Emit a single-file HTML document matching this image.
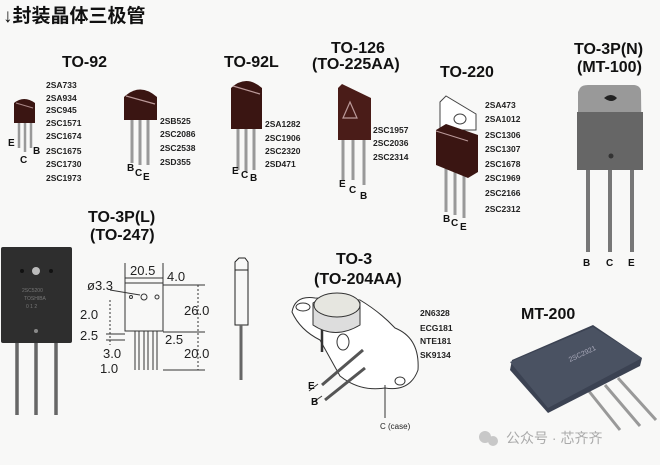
<!DOCTYPE html>
<html><head><meta charset="utf-8"><style>
html,body{margin:0;padding:0;background:#f8f8f7;}
svg{display:block}
.t{font-family:"Liberation Sans",sans-serif;font-weight:bold;fill:#111}
.n{font-family:"Liberation Sans",sans-serif;font-weight:bold;fill:#222;font-size:8.5px}
.d{font-family:"Liberation Sans",sans-serif;fill:#222;font-size:13px}
</style></head><body>
<svg width="660" height="465" viewBox="0 0 660 465">
<rect width="660" height="465" fill="#f8f8f7"/>
<text x="3" y="22" style="font-family:'Liberation Sans','Noto Sans CJK SC',sans-serif;font-weight:bold;font-size:19px" fill="#111">↓封装晶体三极管</text>

<!-- TO-92 -->
<text class="t" x="62" y="67" font-size="16">TO-92</text>
<g stroke="#999" stroke-width="2.5"><line x1="19" y1="120" x2="19" y2="148"/><line x1="25" y1="120" x2="25" y2="152"/><line x1="31" y1="120" x2="31" y2="148"/></g>
<path d="M14 103 Q24 95 35 103 L35 123 L14 123Z" fill="#3a1512"/><line x1="16" y1="103" x2="33" y2="108" stroke="#a88" stroke-width="1"/>
<text class="t" x="8" y="146" font-size="10" font-weight="normal">E</text><text class="t" x="20" y="163" font-size="10">C</text><text class="t" x="33" y="154" font-size="10">B</text>
<g class="n"><text x="46" y="88">2SA733</text><text x="46" y="101">2SA934</text><text x="46" y="113">2SC945</text><text x="46" y="126">2SC1571</text><text x="46" y="139">2SC1674</text><text x="46" y="154">2SC1675</text><text x="46" y="167">2SC1730</text><text x="46" y="181">2SC1973</text></g>

<g stroke="#999" stroke-width="3"><line x1="132" y1="118" x2="132" y2="163"/><line x1="140" y1="118" x2="140" y2="165"/><line x1="148" y1="118" x2="148" y2="165"/></g>
<path d="M124 97 Q140 82 157 97 L157 120 L124 120Z" fill="#3a1512"/><line x1="126" y1="96" x2="155" y2="104" stroke="#b99" stroke-width="1.2"/>
<text class="t" x="127" y="171" font-size="10">B</text><text class="t" x="135" y="176" font-size="10">C</text><text class="t" x="143" y="180" font-size="10">E</text>
<g class="n"><text x="160" y="124">2SB525</text><text x="160" y="137">2SC2086</text><text x="160" y="151">2SC2538</text><text x="160" y="165">2SD355</text></g>

<!-- TO-92L -->
<text class="t" x="224" y="67" font-size="16">TO-92L</text>
<g stroke="#999" stroke-width="3"><line x1="238" y1="125" x2="238" y2="170"/><line x1="246" y1="125" x2="246" y2="172"/><line x1="254" y1="125" x2="254" y2="170"/></g>
<path d="M231 88 Q246 74 262 88 L262 129 L231 129Z" fill="#3a1512"/><line x1="233" y1="86" x2="260" y2="94" stroke="#b99" stroke-width="1.2"/>
<text class="t" x="232" y="174" font-size="10">E</text><text class="t" x="241" y="178" font-size="10">C</text><text class="t" x="250" y="181" font-size="10">B</text>
<g class="n"><text x="265" y="127">2SA1282</text><text x="265" y="141">2SC1906</text><text x="265" y="154">2SC2320</text><text x="265" y="167">2SD471</text></g>

<!-- TO-126 -->
<text class="t" x="331" y="53" font-size="16">TO-126</text>
<text class="t" x="312" y="69" font-size="16">(TO-225AA)</text>
<g stroke="#999" stroke-width="3"><line x1="343" y1="135" x2="343" y2="180"/><line x1="353" y1="135" x2="353" y2="180"/><line x1="364" y1="135" x2="364" y2="185"/></g>
<path d="M338 88 L342 84 L371 98 L371 140 L338 140Z" fill="#4a1c18"/>
<path d="M343 118 L350 102 L357 118Z" fill="none" stroke="#b99" stroke-width="1.2"/>
<text class="t" x="339" y="187" font-size="10">E</text><text class="t" x="349" y="193" font-size="10">C</text><text class="t" x="360" y="199" font-size="10">B</text>
<g class="n"><text x="373" y="133">2SC1957</text><text x="373" y="146">2SC2036</text><text x="373" y="160">2SC2314</text></g>

<!-- TO-220 -->
<text class="t" x="440" y="77" font-size="16">TO-220</text>
<g stroke="#999" stroke-width="3"><line x1="446" y1="165" x2="446" y2="212"/><line x1="455" y1="168" x2="455" y2="215"/><line x1="464" y1="168" x2="464" y2="218"/></g>
<path d="M440 102 L446 96 L476 114 L476 130 L440 130Z" fill="#fff" stroke="#444"/>
<ellipse cx="460" cy="119" rx="6" ry="5" fill="none" stroke="#444"/>
<path d="M436 130 L446 124 L478 135 L478 172 L468 178 L436 165Z" fill="#3a1512"/>
<line x1="436" y1="131" x2="468" y2="141" stroke="#b99"/>
<text class="t" x="443" y="222" font-size="10">B</text><text class="t" x="451" y="226" font-size="10">C</text><text class="t" x="460" y="230" font-size="10">E</text>
<g class="n"><text x="485" y="108">2SA473</text><text x="485" y="122">2SA1012</text><text x="485" y="138">2SC1306</text><text x="485" y="152">2SC1307</text><text x="485" y="167">2SC1678</text><text x="485" y="181">2SC1969</text><text x="485" y="196">2SC2166</text><text x="485" y="212">2SC2312</text></g>

<!-- TO-3P(N) -->
<text class="t" x="574" y="54" font-size="16">TO-3P(N)</text>
<text class="t" x="577" y="72" font-size="16">(MT-100)</text>
<g stroke="#777" stroke-width="4"><line x1="588" y1="165" x2="588" y2="252"/><line x1="610" y1="165" x2="610" y2="252"/><line x1="632" y1="165" x2="632" y2="252"/></g>
<path d="M580 88 Q582 85 588 85 L634 85 Q641 86 641 92 L642 170 L578 170 L578 92Z" fill="#999"/>
<rect x="577" y="112" width="66" height="58" fill="#666"/>
<path d="M604 98 Q611 92 617 98 Q612 104 604 98Z" fill="#222"/>
<circle cx="611" cy="156" r="2.5" fill="#333"/>
<text class="t" x="583" y="266" font-size="10">B</text><text class="t" x="606" y="266" font-size="10">C</text><text class="t" x="628" y="266" font-size="10">E</text>

<!-- TO-3P(L) -->
<text class="t" x="88" y="222" font-size="16">TO-3P(L)</text>
<text class="t" x="90" y="240" font-size="16">(TO-247)</text>
<g stroke="#666" stroke-width="3.5"><line x1="17" y1="340" x2="17" y2="415"/><line x1="36" y1="340" x2="36" y2="415"/><line x1="56" y1="340" x2="56" y2="415"/></g>
<rect x="1" y="247" width="71" height="96" rx="2" fill="#2e2e2e"/>
<circle cx="36" cy="271" r="4" fill="#bbb"/><circle cx="22" cy="271" r="2" fill="#111"/><circle cx="51" cy="271" r="2" fill="#111"/>
<circle cx="36" cy="331" r="2" fill="#888"/>
<g fill="#777" font-size="5" font-family="Liberation Sans"><text x="22" y="292">2SC5200</text><text x="24" y="300">TOSHIBA</text><text x="26" y="308">0 1 2</text></g>

<!-- dimension drawing -->
<g stroke="#333" fill="none" stroke-width="1">
<rect x="125" y="283" width="38" height="48"/>
<line x1="125" y1="263" x2="125" y2="283"/><line x1="163" y1="263" x2="163" y2="283"/>
<line x1="125" y1="278" x2="163" y2="278"/>
<line x1="163" y1="285" x2="205" y2="285"/><line x1="163" y1="332" x2="205" y2="332"/><line x1="163" y1="370" x2="205" y2="370"/>
<line x1="198" y1="285" x2="198" y2="370" stroke-dasharray="2 2"/>
<line x1="135" y1="331" x2="135" y2="370"/><line x1="139" y1="331" x2="139" y2="370"/>
<line x1="144" y1="331" x2="144" y2="370"/><line x1="148" y1="331" x2="148" y2="370"/>
<line x1="153" y1="331" x2="153" y2="370"/><line x1="157" y1="331" x2="157" y2="370"/>
<line x1="110" y1="300" x2="110" y2="345" stroke-dasharray="2 2"/>
<line x1="106" y1="334" x2="125" y2="334"/><line x1="106" y1="340" x2="125" y2="340"/>
<circle cx="144" cy="297" r="3"/><circle cx="131" cy="297" r="1.5"/><circle cx="157" cy="297" r="2"/>
<line x1="110" y1="290" x2="140" y2="295"/>
</g>
<g class="d"><text x="130" y="275">20.5</text><text x="167" y="281">4.0</text><text x="87" y="290">ø3.3</text><text x="184" y="315">26.0</text><text x="80" y="319">2.0</text><text x="80" y="340">2.5</text><text x="165" y="344">2.5</text><text x="103" y="358">3.0</text><text x="184" y="358">20.0</text><text x="100" y="373">1.0</text></g>

<!-- side view -->
<path d="M235 262 L239 258 L245 258 L248 262 L248 325 L235 325Z" fill="none" stroke="#222"/>
<line x1="235" y1="270" x2="248" y2="270" stroke="#222"/>
<line x1="241" y1="325" x2="241" y2="380" stroke="#666" stroke-width="3"/>

<!-- TO-3 -->
<text class="t" x="336" y="264" font-size="16">TO-3</text>
<text class="t" x="314" y="284" font-size="16">(TO-204AA)</text>
<g stroke="#333" fill="none" stroke-width="1">
<path d="M292 312 Q295 295 315 298 L360 300 Q380 312 395 328 Q420 338 418 370 Q410 392 385 388 Q360 392 340 376 L320 340 Q300 330 292 312Z" fill="#fff"/>
<ellipse cx="303" cy="307" rx="7" ry="4"/>
<path d="M313 303 Q335 288 360 302 L360 325 Q335 340 313 325Z" fill="#ddd"/>
<ellipse cx="337" cy="305" rx="23" ry="12" fill="#e6e6e0"/>
<ellipse cx="343" cy="342" rx="6" ry="8"/>
<ellipse cx="400" cy="381" rx="5" ry="4"/>
<line x1="322" y1="385" x2="363" y2="350" stroke-width="3" stroke="#555"/>
<line x1="325" y1="400" x2="365" y2="368" stroke-width="3" stroke="#555"/>
<line x1="322" y1="330" x2="322" y2="352" stroke-width="2.5"/>
<line x1="309" y1="391" x2="318" y2="384"/><line x1="312" y1="403" x2="322" y2="396"/>
<line x1="385" y1="385" x2="385" y2="418"/>
</g>
<text class="t" x="308" y="389" font-size="10" font-weight="normal">E</text>
<text class="t" x="311" y="405" font-size="10" font-weight="normal">B</text>
<text x="380" y="429" font-family="Liberation Sans" font-size="8" fill="#222">C (case)</text>
<g class="n"><text x="420" y="316">2N6328</text><text x="420" y="331">ECG181</text><text x="420" y="344">NTE181</text><text x="420" y="358">SK9134</text></g>

<!-- MT-200 -->
<text class="t" x="521" y="319" font-size="16">MT-200</text>
<g stroke="#999" stroke-width="3"><line x1="588" y1="390" x2="620" y2="430"/><line x1="605" y1="385" x2="640" y2="426"/><line x1="618" y1="378" x2="656" y2="420"/></g>
<path d="M512 360 L593 325 L642 358 L640 366 L548 413 L510 370Z" fill="#3b4252"/>
<path d="M510 362 L593 327 L642 358 L548 408Z" fill="#4a5262"/>
<text x="570" y="362" font-family="Liberation Sans" font-size="7" fill="#aab" transform="rotate(-25 570 362)">2SC2921</text>

<!-- watermark -->
<circle cx="485" cy="437" r="6" fill="#c8c8c8"/><circle cx="493" cy="441" r="5" fill="#c8c8c8"/>
<text x="506" y="443" style="font-family:'Liberation Sans','Noto Sans CJK SC',sans-serif;font-size:14px" fill="#aaa">公众号 · 芯齐齐</text>
</svg>
</body></html>
